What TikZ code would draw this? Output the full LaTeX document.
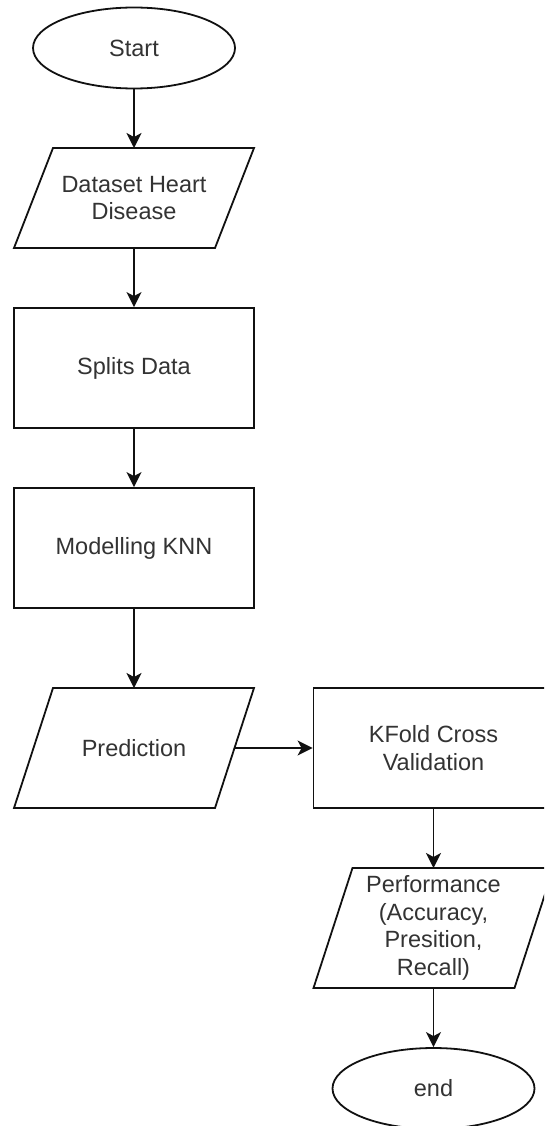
\documentclass[tikz,border=0pt]{standalone}
\usepackage{fontspec}
\setmainfont{Liberation Sans}
\usetikzlibrary{shapes.geometric,arrows.meta}

\definecolor{inkline}{HTML}{111111}
\definecolor{inktext}{HTML}{333333}

\tikzset{
  base/.style={draw=none, line width=1.8pt, text=inktext, align=center,
    font=\fontsize{23.5pt}{27.5pt}\selectfont, inner sep=0pt},
  termbox/.style={base, draw=inkline, ellipse, minimum width=202pt, minimum height=81pt},
  procbox/.style={base, draw=inkline, rectangle, minimum width=240pt, minimum height=120pt},
  iobox/.style={base, rectangle, outer sep=0pt, minimum width=201pt},
  flow/.style={draw=inkline, line width=1.8pt,
    -{Stealth[length=15pt,width=15pt,inset=4pt]}},
  shapeline/.style={draw=inkline, line width=1.8pt, line join=miter}
}

% parallelogram (input/output) drawn around a named node, fixed slant
\newcommand\iooutline[1]{%
  \draw[shapeline] ([xshift=19.5pt]#1.north west) -- ([xshift=19.5pt]#1.north east)
    -- ([xshift=-19.5pt]#1.south east) -- ([xshift=-19.5pt]#1.south west) -- cycle;}

\begin{document}
\begin{tikzpicture}[x=1pt,y=-1pt]
  \useasboundingbox (0,0) rectangle (544,1126);
  \fill[white] (0,0) rectangle (544,1126);
  \clip (0,0) rectangle (544,1126);

  % left column
  \node[termbox] (start) at (134,48) {Start};
  \node[iobox, minimum height=100pt] (data) at (134,198) {Dataset Heart\\Disease};
  \iooutline{data}
  \node[procbox] (split) at (134,368) {Splits Data};
  \node[procbox] (model) at (134,548) {Modelling KNN};
  \node[iobox, minimum height=120pt] (pred) at (134,748) {Prediction};
  \iooutline{pred}

  % right column
  \node[procbox] (kfold) at (433.5,748) {KFold Cross\\Validation};
  \node[iobox, minimum height=120pt] (perf) at (433.5,928)
    {Performance\\(Accuracy,\\Presition,\\Recall)};
  \iooutline{perf}
  \node[termbox] (finish) at (433.5,1088.5) {end};

  % connectors
  \draw[flow] (start) -- (data);
  \draw[flow] (data) -- (split);
  \draw[flow] (split) -- (model);
  \draw[flow] (model) -- (pred);
  \draw[flow] (pred) -- (kfold);
  \draw[flow] (kfold) -- (perf);
  \draw[flow] (perf) -- (finish);
\end{tikzpicture}
\end{document}
